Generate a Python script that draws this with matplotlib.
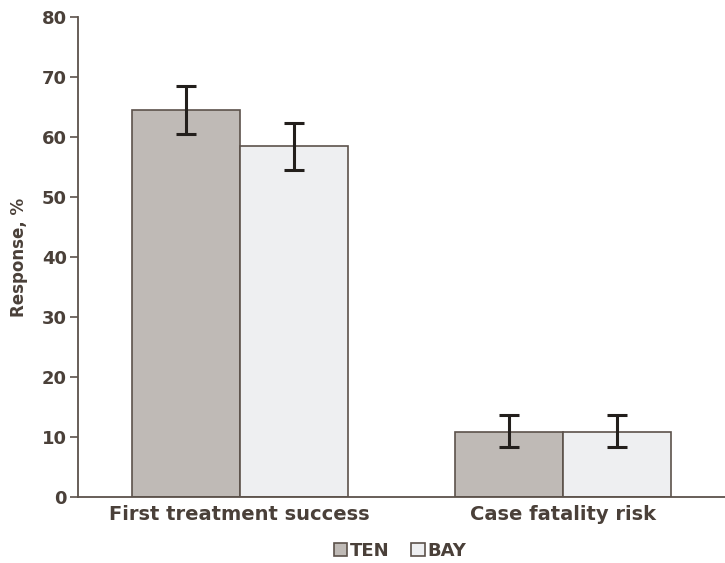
import matplotlib
matplotlib.use("Agg")
import matplotlib.pyplot as plt
import numpy as np

categories = ["First treatment success", "Case fatality risk"]
series = ["TEN", "BAY"]
ten_vals = [64.5, 10.9]
ten_lo = [60.5, 8.3]
ten_hi = [68.5, 13.6]
bay_vals = [58.5, 10.9]
bay_lo = [54.5, 8.3]
bay_hi = [62.3, 13.6]

yticks = [0, 10, 20, 30, 40, 50, 60, 70, 80]

TEXT = "#4a4039"
EDGE = "#5c524b"
colors = {"TEN": "#bfbab6", "BAY": "#eeeff1"}

plt.rcParams["font.family"] = ["DejaVu Sans"]
plt.rcParams["font.weight"] = "bold"
plt.rcParams["axes.labelweight"] = "bold"

fig = plt.figure(figsize=(7.25, 5.63), dpi=100)
ax = fig.add_axes([78 / 725, 1 - 497 / 563, 1 - 78 / 725, (497 - 17) / 563])

x = np.array([0.0, 3.0])
w = 1.0
for off, name, vals, lo, hi in [(-0.5, "TEN", ten_vals, ten_lo, ten_hi),
                                (0.5, "BAY", bay_vals, bay_lo, bay_hi)]:
    vals = np.array(vals)
    err = np.array([vals - np.array(lo), np.array(hi) - vals])
    ax.bar(x + off, vals, width=w, color=colors[name], edgecolor=EDGE,
           linewidth=1.2, label=name, zorder=2)
    ax.errorbar(x + off, vals, yerr=err, fmt="none", ecolor="#231f1c",
                elinewidth=2.2, capsize=7, capthick=2.2, zorder=3)

ax.set_xlim(-1.5, 4.5)
ax.set_ylim(0, 80)
ax.set_yticks(yticks)
ax.set_xticks(x, categories)

for s in ["top", "right"]:
    ax.spines[s].set_visible(False)
for s in ["left", "bottom"]:
    ax.spines[s].set_color(EDGE)
    ax.spines[s].set_linewidth(1.3)

ax.tick_params(axis="y", length=6, width=1.2, color=EDGE, labelcolor=TEXT,
               labelsize=13, pad=2)
ax.tick_params(axis="x", length=0, labelcolor=TEXT, labelsize=14, pad=6)
ax.set_ylabel("Response, %", color=TEXT, fontsize=12, labelpad=10)

leg = fig.legend(loc="center", bbox_to_anchor=(400 / 725, 1 - 551 / 563),
                 ncol=2, frameon=False, fontsize=13, handlelength=0.75,
                 handleheight=0.75, handletextpad=0.15, columnspacing=1.2)
for t in leg.get_texts():
    t.set_color(TEXT)

fig.savefig("out.png", dpi=100)
